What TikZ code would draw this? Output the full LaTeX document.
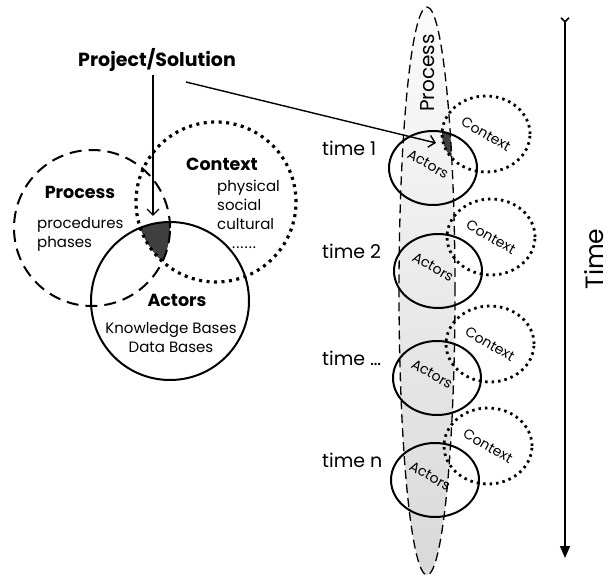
\documentclass[tikz,border=0pt]{standalone}
\usepackage{fontspec}
\setmainfont{Poppins}
\usepackage{tikz}
\usetikzlibrary{arrows.meta}

\begin{document}
\begin{tikzpicture}[x=1pt,y=-1pt,
  solidring/.style={line width=2pt},
  dashring/.style={line width=2pt,dash pattern=on 12pt off 7pt},
  dotring/.style={line width=3.2pt,dash pattern=on 3pt off 4.5pt},
  smalldot/.style={line width=2.8pt,dash pattern=on 2.5pt off 4pt},
  procline/.style={line width=1.3pt,dash pattern=on 9pt off 5pt},
  pointer/.style={line width=1.4pt,-{Straight Barb[length=6pt,width=12pt]}},
  boldlab/.style={font=\bfseries\fontsize{17.5}{17.5}\selectfont},
  itemlab/.style={font=\fontsize{15}{19}\selectfont,align=left,inner sep=0pt},
  timelab/.style={font=\fontsize{19}{19}\selectfont,anchor=west,inner sep=0pt},
  tiltlab/.style={font=\fontsize{14}{14}\selectfont,rotate=-30,inner sep=0pt}]
\useasboundingbox (0,0) rectangle (608,577);

\begin{scope}
\clip (92,228) circle (78pt);
\clip (216,202) circle (80pt);
\fill[black!75] (170,301) circle (79pt);
\end{scope}
\draw[dashring] (92,228) circle (78pt);
\draw[dotring] (216,202) circle (80pt);
\draw[solidring] (170,301) circle (79pt);

\node[boldlab,font=\bfseries\fontsize{19}{19}\selectfont] (proj) at (157,60) {Project/Solution};
\node[boldlab] (procL) at (80,192) {Process};
\node[itemlab,anchor=west] (procitems) at (37,234) {procedures\\phases};
\node[boldlab] (ctxL) at (222,164) {Context};
\node[itemlab,anchor=north west] (ctxitems) at (217,180) {physical\\social\\cultural\\\hspace*{15pt}.\kern1pt.\kern1pt.\kern1pt.\kern1pt.\kern1pt.};
\node[boldlab] (actL) at (177,300) {Actors};
\node[itemlab,align=center] (actitems) at (171,338) {Knowledge Bases\\Data Bases};

\shade[top color=gray!3,bottom color=gray!30] (427,291) ellipse (28pt and 284pt);
\begin{scope}
\clip (427,291) ellipse (28pt and 284pt);
\clip (486,134) ellipse (44pt and 38pt);
\fill[black!75] (433,168) ellipse (44pt and 37pt);
\end{scope}

\foreach \i/\lab/\ax/\ay in {1/1/433/168,2/2/438/271,3/\ldots/437/378,4/n/435/480}{
\draw[solidring] (\ax,\ay) ellipse (44pt and 37pt);
\draw[smalldot] (\ax+53,\ay-34) ellipse (44pt and 38pt);
\node[tiltlab] (act\i) at (\ax-5,\ay-4) {Actors};
\node[tiltlab] (ctx\i) at (\ax+53,\ay-34) {Context};
\node[timelab] (time\i) at (322,\ay-20) {time \lab};
}
\draw[procline] (427,291) ellipse (28pt and 284pt);
\node[font=\fontsize{20}{20}\selectfont,rotate=90,inner sep=0pt] (procR) at (428,73) {Process};

\coordinate (projtip) at (153,216);
\coordinate (projfrom) at (186,82);
\coordinate (acttip) at (436,143);
\draw[pointer] (proj.south -| projtip) -- (projtip);
\draw[pointer] (projfrom) -- (acttip);

\coordinate (tstart) at (565,17);
\coordinate (tend) at (565,558);
\draw[line width=1.6pt,{Straight Barb[reversed,length=4pt,width=8pt]}-{Triangle[length=12pt,width=10pt]}] (tstart) -- (tend);
\node[font=\fontsize{25}{25}\selectfont,rotate=90,inner sep=0pt] (timeax) at (594,259) {Time};
\end{tikzpicture}
\end{document}
